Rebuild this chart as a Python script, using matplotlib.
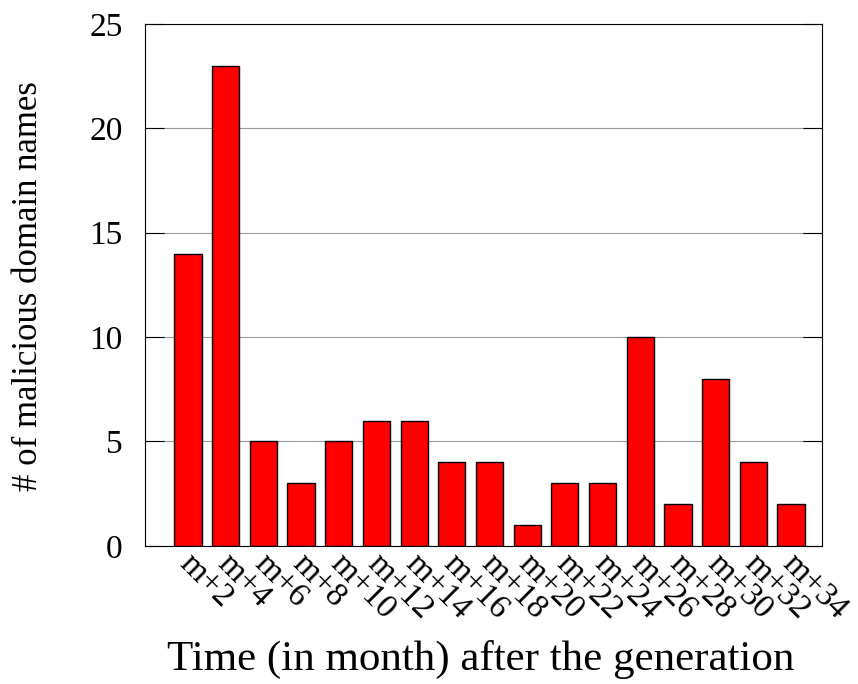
import numpy as np
import matplotlib.pyplot as plt
import matplotlib.transforms as mtransforms

plt.rcParams['font.family'] = ['Liberation Serif', 'DejaVu Serif']

labels = ['m+2', 'm+4', 'm+6', 'm+8', 'm+10', 'm+12', 'm+14', 'm+16', 'm+18',
          'm+20', 'm+22', 'm+24', 'm+26', 'm+28', 'm+30', 'm+32', 'm+34']
counts = [14, 23, 5, 3, 5, 6, 6, 4, 4, 1, 3, 3, 10, 2, 8, 4, 2]

fig = plt.figure(figsize=(8.58, 6.84), dpi=100)
ax = fig.add_axes([0.169, 0.202, 0.789, 0.763])

x = np.arange(len(labels))
ax.set_axisbelow(True)
ax.yaxis.grid(True, color='#999999', linewidth=0.8)
ax.bar(x, counts, width=0.72, color='#ff0000', edgecolor='black', linewidth=1)

ax.set_xlim(-1.14, 16.82)
ax.set_ylim(0, 25)
ax.set_yticks([0, 5, 10, 15, 20, 25])
ax.tick_params(axis='y', direction='in', length=14, labelsize=24, pad=16,
               right=True)
ax.set_xticks(x)
ax.set_xticklabels(labels, rotation=-45, ha='left', va='top',
                   rotation_mode='anchor', fontsize=24)
ax.tick_params(axis='x', length=0, pad=2)

# nudge rotated labels to the right like the original
shift = mtransforms.ScaledTranslation(5 / 72, 0, fig.dpi_scale_trans)
for lab in ax.get_xticklabels():
    lab.set_transform(lab.get_transform() + shift)

fig.text(0.56, 0.036, 'Time (in month) after the generation', fontsize=31,
         ha='center', va='center')
fig.text(0.033, 0.582, '# of malicious domain names', fontsize=25,
         ha='center', va='center', rotation=90)

plt.savefig('out.png', dpi=100)
